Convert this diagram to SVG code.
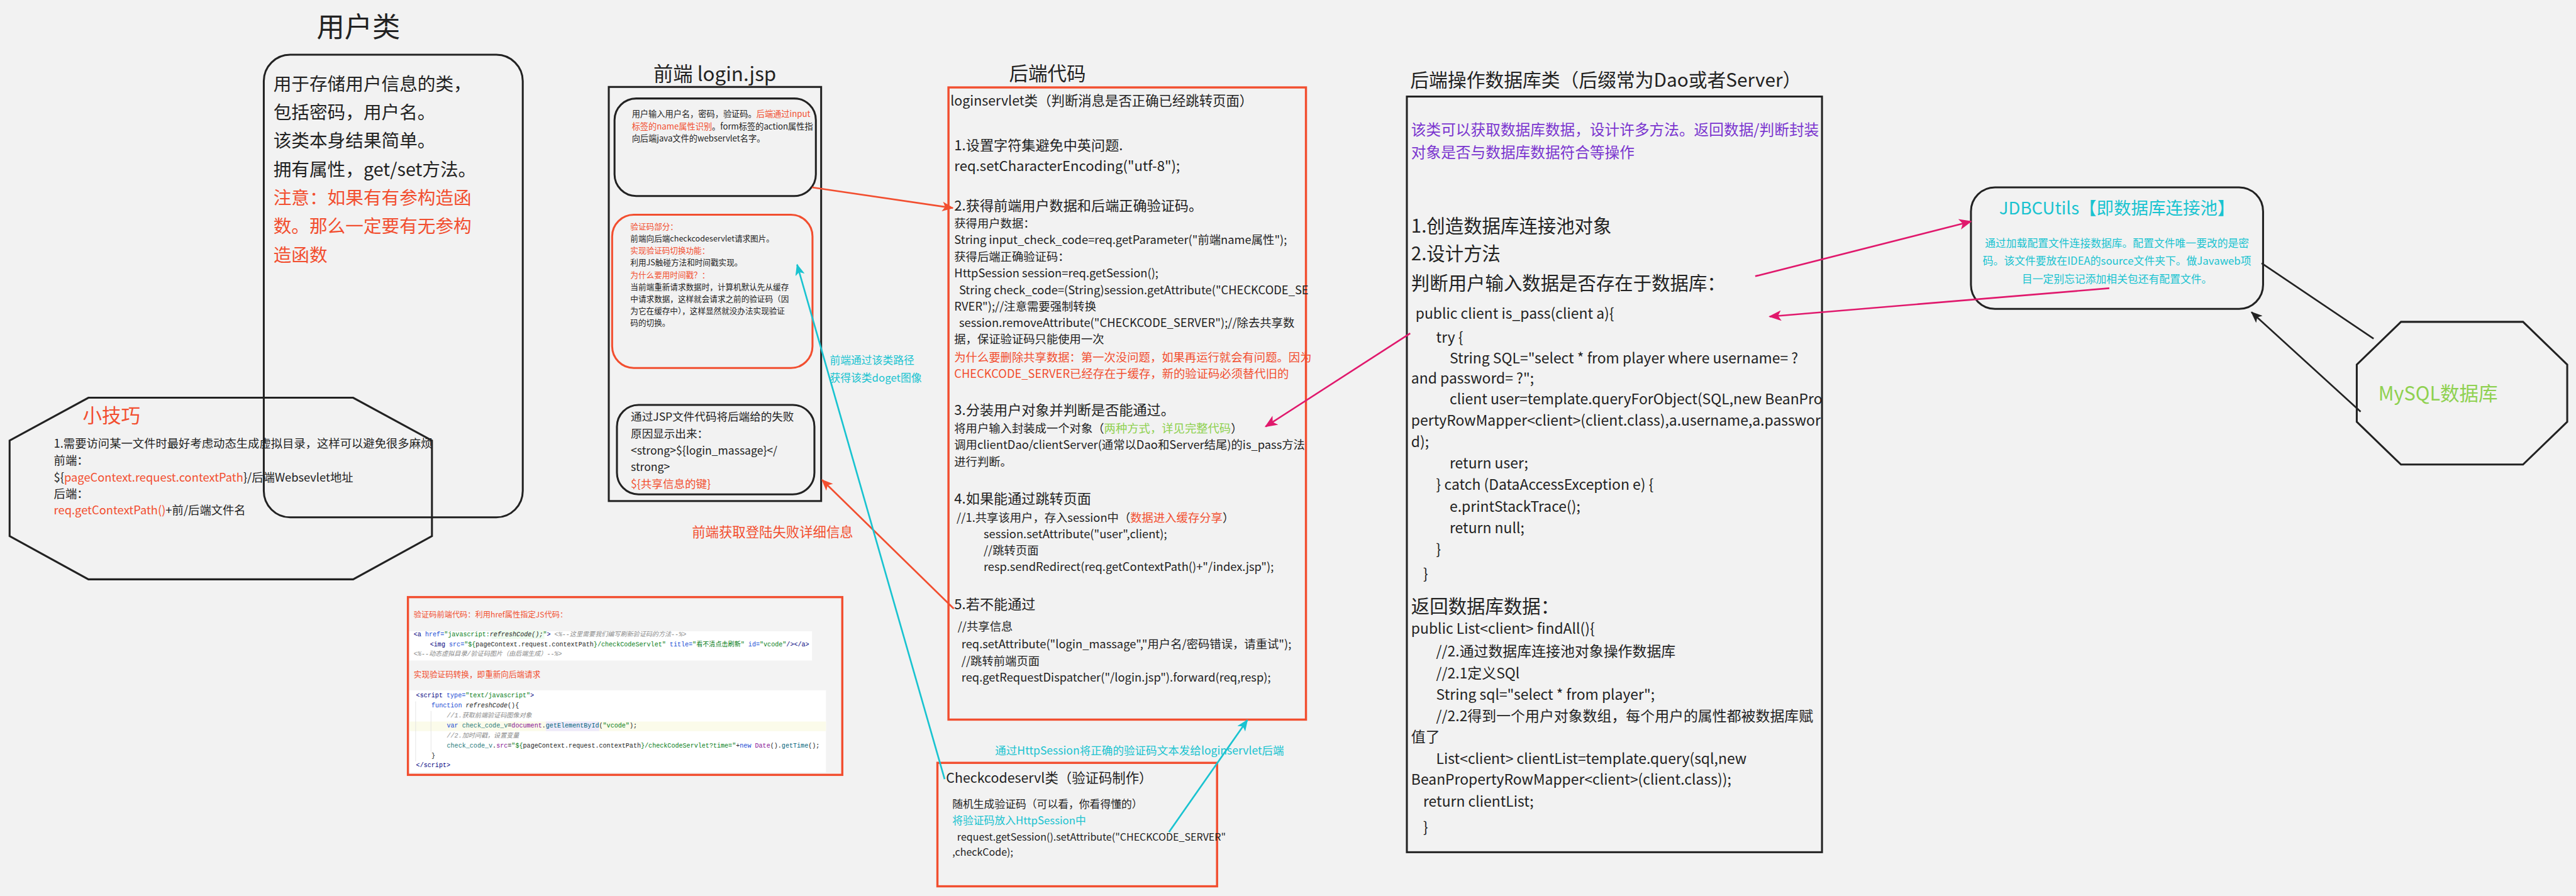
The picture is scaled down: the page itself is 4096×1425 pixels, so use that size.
<svg xmlns="http://www.w3.org/2000/svg" width="4096" height="1425" viewBox="0 0 4096 1425">
<style>
text{font-family:"Noto Sans CJK SC","Noto Sans",sans-serif;fill:#222}
.red{fill:#f24e2f}
.cy{fill:#19c3d0}
.pu{fill:#7a35cf}
.gr{fill:#8fd150}
.box{fill:none;stroke:#222;stroke-width:4}
.rbox{fill:none;stroke:#f24e2f;stroke-width:4.5}
.code text,.code tspan{font-family:"Liberation Mono","Noto Sans CJK SC",monospace;font-size:13.2px}
.nv{fill:#000080}.bl{fill:#174ad4}.sg{fill:#067d17}.cm{fill:#8c8c8c;font-style:italic}.it{font-style:italic}.tl{fill:#1f7a7a}.pp{fill:#871094}.fn{fill:#00627a}
.con{fill:none;stroke-width:3.5}
</style>
<defs>
<marker id="aR" viewBox="0 0 24 20" markerWidth="24" markerHeight="20" refX="22" refY="10" orient="auto" markerUnits="userSpaceOnUse"><path d="M0,0 L24,10 L0,20 L6,10 Z" fill="#f24e2f"/></marker>
<marker id="aC" viewBox="0 0 24 20" markerWidth="24" markerHeight="20" refX="22" refY="10" orient="auto" markerUnits="userSpaceOnUse"><path d="M0,0 L24,10 L0,20 L6,10 Z" fill="#19c3d0"/></marker>
<marker id="aP" viewBox="0 0 24 20" markerWidth="28" markerHeight="22" refX="22" refY="10" orient="auto" markerUnits="userSpaceOnUse"><path d="M0,0 L24,10 L0,20 L6,10 Z" fill="#e0186c"/></marker>
<marker id="aK" viewBox="0 0 24 20" markerWidth="24" markerHeight="20" refX="22" refY="10" orient="auto" markerUnits="userSpaceOnUse"><path d="M0,0 L24,10 L0,20 L6,10 Z" fill="#222"/></marker>
</defs>
<rect x="0" y="0" width="4096" height="1425" fill="#f2f2f2"/>
<g transform="scale(0.764)">

<g id="user-class">
<text x="659" y="77" font-size="58">用户类</text>
<rect class="box" x="549" y="114" width="539" height="963" rx="55" ry="55"/>
<g font-size="37.5">
<text x="569" y="188">用于存储用户信息的类，</text>
<text x="569" y="247">包括密码，用户名。</text>
<text x="569" y="306">该类本身结果简单。</text>
<text x="569" y="366">拥有属性，get/set方法。</text>
<text x="569" y="425" class="red">注意：如果有有参构造函</text>
<text x="569" y="484" class="red">数。那么一定要有无参构</text>
<text x="569" y="545" class="red">造函数</text>
</g>
</g>

<g id="tips">
<polygon class="box" points="184,828 735,828 899,917 899,1116 735,1206 184,1206 20,1116 20,917"/>
<text x="172" y="880" font-size="40" class="red">小技巧</text>
<g font-size="24">
<text x="112" y="932">1.需要访问某一文件时最好考虑动态生成虚拟目录，这样可以避免很多麻烦</text>
<text x="112" y="967">前端：</text>
<text x="112" y="1002">${<tspan class="red">pageContext.request.contextPath</tspan>}/后端Websevlet地址</text>
<text x="112" y="1037">后端：</text>
<text x="112" y="1071"><tspan class="red">req.getContextPath()</tspan>+前/后端文件名</text>
</g>
</g>

<g id="code-shot" class="code">
<rect x="849" y="1243" width="904" height="370" fill="#f3f3f3" stroke="#f24e2f" stroke-width="4.5"/>
<text x="861" y="1285" style="font-family:'Noto Sans CJK SC',sans-serif;font-size:16px" class="red">验证码前端代码：利用href属性指定JS代码：</text>
<rect x="852" y="1314" width="838" height="61" fill="#ffffff"/>
<rect x="1023" y="1312" width="110" height="18" fill="#edfced"/>
<text x="861" y="1324"><tspan class="nv">&lt;a </tspan><tspan class="bl">href=</tspan><tspan class="sg">"javascript:</tspan><tspan class="it">refreshCode();</tspan><tspan class="sg">"</tspan><tspan class="nv">&gt; </tspan><tspan class="cm">&lt;%--这里需要我们编写刷新验证码的方法--%&gt;</tspan></text>
<text x="895" y="1345"><tspan class="nv">&lt;img </tspan><tspan class="bl">src=</tspan><tspan class="sg">"${</tspan>pageContext.request.contextPath<tspan class="sg">}/checkCodeServlet" </tspan><tspan class="bl">title=</tspan><tspan class="sg">"看不清点击刷新" </tspan><tspan class="bl">id=</tspan><tspan class="sg">"vcode"</tspan><tspan class="nv">/&gt;&lt;/a&gt;</tspan></text>
<text x="861" y="1365" class="cm">&lt;%--动态虚拟目录/验证码图片（由后端生成）--%&gt;</text>
<text x="861" y="1410" style="font-family:'Noto Sans CJK SC',sans-serif;font-size:16.5px" class="red">实现验证码转换，即重新向后端请求</text>
<rect x="852" y="1437" width="867" height="171" fill="#ffffff"/>
<rect x="852" y="1502" width="867" height="20" fill="#fbfbea"/>
<rect x="1136" y="1502" width="111" height="20" fill="#eeeafa"/>
<line x1="865" y1="1460" x2="865" y2="1585" stroke="#dddddd" stroke-width="1"/>
<line x1="897" y1="1480" x2="897" y2="1565" stroke="#dddddd" stroke-width="1"/>
<text x="866" y="1452"><tspan class="nv">&lt;script </tspan><tspan class="bl">type=</tspan><tspan class="sg">"text/javascript"</tspan><tspan class="nv">&gt;</tspan></text>
<text x="898" y="1473"><tspan class="bl">function </tspan><tspan class="it">refreshCode</tspan>(){</text>
<text x="930" y="1494" class="cm">//1.获取前端验证码图像对象</text>
<text x="930" y="1514"><tspan class="bl">var </tspan><tspan class="tl">check_code_v</tspan>=<tspan class="pp">document</tspan>.<tspan class="fn">getElementById</tspan>(<tspan class="sg">"vcode"</tspan>);</text>
<text x="930" y="1535" class="cm">//2.加时间戳，设置变量</text>
<text x="930" y="1556"><tspan class="tl">check_code_v</tspan>.<tspan class="pp">src</tspan>=<tspan class="sg">"${</tspan>pageContext.request.contextPath<tspan class="sg">}/checkCodeServlet?time="</tspan>+<tspan class="bl">new </tspan><tspan class="pp">Date</tspan>().<tspan class="fn">getTime</tspan>();</text>
<text x="898" y="1577">}</text>
<text x="866" y="1597"><tspan class="nv">&lt;/script&gt;</tspan></text>
</g>

<g id="login-jsp">
<text x="1360" y="169" font-size="41">前端 login.jsp</text>
<rect class="box" x="1267" y="181" width="442" height="862"/>
</g>
<g id="jsp-input">
<rect class="box" x="1279" y="205" width="419" height="203" rx="45" ry="45"/>
<g font-size="17.3">
<text x="1315" y="244">用户输入用户名，密码，验证码。<tspan class="red">后端通过input</tspan></text>
<text x="1315" y="269"><tspan class="red">标签的name属性识别</tspan>。form标签的action属性指</text>
<text x="1315" y="294">向后端java文件的webservlet名字。</text>
</g>
</g>
<g id="jsp-checkcode">
<rect x="1274" y="447" width="417" height="319" rx="45" ry="45" fill="none" stroke="#f24e2f" stroke-width="4"/>
<g font-size="16.5">
<text x="1312" y="478" class="red">验证码部分：</text>
<text x="1312" y="503">前端向后端checkcodeservlet请求图片。</text>
<text x="1312" y="528" class="red">实现验证码切换功能：</text>
<text x="1312" y="553">利用JS触碰方法和时间戳实现。</text>
<text x="1312" y="578" class="red">为什么要用时间戳？：</text>
<text x="1312" y="603">当前端重新请求数据时，计算机默认先从缓存</text>
<text x="1312" y="628">中请求数据，这样就会请求之前的验证码（因</text>
<text x="1312" y="653">为它在缓存中），这样显然就没办法实现验证</text>
<text x="1312" y="678">码的切换。</text>
</g>
</g>
<g id="jsp-message">
<rect class="box" x="1284" y="843" width="411" height="186" rx="45" ry="45"/>
<g font-size="23">
<text x="1313" y="876">通过JSP文件代码将后端给的失败</text>
<text x="1313" y="911">原因显示出来：</text>
<text x="1313" y="946">&lt;strong&gt;${login_massage}&lt;/</text>
<text x="1313" y="981">strong&gt;</text>
<text x="1313" y="1016" class="red">${共享信息的键}</text>
</g>
</g>

<g id="loginservlet">
<text x="2100" y="167" font-size="40">后端代码</text>
<rect class="rbox" x="1974" y="182" width="744" height="1316"/>
<text x="1978" y="220" font-size="28">loginservlet类（判断消息是否正确已经跳转页面）</text>
<g font-size="29">
<text x="1986" y="313">1.设置字符集避免中英问题.</text>
<text x="1986" y="356">req.setCharacterEncoding("utf-8");</text>
<text x="1986" y="438">2.获得前端用户数据和后端正确验证码。</text>
<text x="1986" y="864">3.分装用户对象并判断是否能通过。</text>
<text x="1986" y="1049">4.如果能通过跳转页面</text>
<text x="1986" y="1268">5.若不能通过</text>
</g>
<g font-size="24">
<text x="1986" y="474">获得用户数据：</text>
<text x="1986" y="508">String input_check_code=req.getParameter("前端name属性");</text>
<text x="1986" y="543">获得后端正确验证码：</text>
<text x="1986" y="577">HttpSession session=req.getSession();</text>
<text x="1996" y="612">String check_code=(String)session.getAttribute("CHECKCODE_SE</text>
<text x="1986" y="646">RVER");//注意需要强制转换</text>
<text x="1996" y="681">session.removeAttribute("CHECKCODE_SERVER");//除去共享数</text>
<text x="1986" y="715">据，保证验证码只能使用一次</text>
<text x="1986" y="752" class="red">为什么要删除共享数据：第一次没问题，如果再运行就会有问题。因为</text>
<text x="1986" y="787" class="red">CHECKCODE_SERVER已经存在于缓存，新的验证码必须替代旧的</text>
<text x="1986" y="900">将用户输入封装成一个对象（<tspan class="gr">两种方式，详见完整代码</tspan>）</text>
<text x="1986" y="935">调用clientDao/clientServer(通常以Dao和Server结尾)的is_pass方法</text>
<text x="1986" y="970">进行判断。</text>
<text x="1991" y="1086">//1.共享该用户，存入session中（<tspan class="red">数据进入缓存分享</tspan>）</text>
<text x="2047" y="1120">session.setAttribute("user",client);</text>
<text x="2047" y="1155">//跳转页面</text>
<text x="2047" y="1189">resp.sendRedirect(req.getContextPath()+"/index.jsp");</text>
<text x="1993" y="1313">//共享信息</text>
<text x="2001" y="1349">req.setAttribute("login_massage","用户名/密码错误，请重试");</text>
<text x="2001" y="1385">//跳转前端页面</text>
<text x="2001" y="1419">req.getRequestDispatcher("/login.jsp").forward(req,resp);</text>
</g>
</g>

<g id="checkcodeservlet">
<rect class="rbox" x="1951" y="1588" width="582" height="257"/>
<text x="1969" y="1630" font-size="28">Checkcodeservl类（验证码制作）</text>
<g font-size="22">
<text x="1982" y="1682">随机生成验证码（可以看，你看得懂的）</text>
<text x="1982" y="1716" class="cy">将验证码放入HttpSession中</text>
<text x="1992" y="1750" font-size="21">request.getSession().setAttribute("CHECKCODE_SERVER"</text>
<text x="1982" y="1782" font-size="21">,checkCode);</text>
</g>
</g>

<g id="dao">
<text x="2935" y="180" font-size="39">后端操作数据库类（后缀常为Dao或者Server）</text>
<rect class="box" x="2928" y="201" width="864" height="1573"/>
<text x="2937" y="282" font-size="31" class="pu">该类可以获取数据库数据，设计许多方法。返回数据/判断封装</text>
<text x="2937" y="328" font-size="31" class="pu">对象是否与数据库数据符合等操作</text>
<g font-size="38.5">
<text x="2937" y="484">1.创造数据库连接池对象</text>
<text x="2937" y="542">2.设计方法</text>
<text x="2937" y="603">判断用户输入数据是否存在于数据库：</text>
<text x="2937" y="1276">返回数据库数据：</text>
</g>
<g font-size="30">
<text x="2946" y="664">public client is_pass(client a){</text>
<text x="2989" y="713">try {</text>
<text x="3017" y="757">String SQL="select * from player where username= ?</text>
<text x="2937" y="798">and password= ?";</text>
<text x="3017" y="842">client user=template.queryForObject(SQL,new BeanPro</text>
<text x="2937" y="886">pertyRowMapper&lt;client&gt;(client.class),a.username,a.passwor</text>
<text x="2937" y="931">d);</text>
<text x="3017" y="975">return user;</text>
<text x="2989" y="1020">} catch (DataAccessException e) {</text>
<text x="3017" y="1065">e.printStackTrace();</text>
<text x="3017" y="1110">return null;</text>
<text x="2989" y="1155">}</text>
<text x="2962" y="1205">}</text>
<text x="2937" y="1320">public List&lt;client&gt; findAll(){</text>
<text x="2989" y="1366">//2.通过数据库连接池对象操作数据库</text>
<text x="2989" y="1412">//2.1定义SQl</text>
<text x="2989" y="1457">String sql="select * from player";</text>
<text x="2989" y="1501">//2.2得到一个用户对象数组，每个用户的属性都被数据库赋</text>
<text x="2937" y="1545">值了</text>
<text x="2989" y="1590">List&lt;client&gt; clientList=template.query(sql,new</text>
<text x="2937" y="1634">BeanPropertyRowMapper&lt;client&gt;(client.class));</text>
<text x="2962" y="1679">return clientList;</text>
<text x="2962" y="1733">}</text>
</g>
</g>

<g id="jdbcutils">
<rect class="box" x="4102" y="390" width="608" height="253" rx="50" ry="50"/>
<text x="4406" y="447" font-size="36" class="cy" text-anchor="middle">JDBCUtils【即数据库连接池】</text>
<g font-size="22" class="cy" text-anchor="middle">
<text x="4406" y="514" class="cy">通过加载配置文件连接数据库。配置文件唯一要改的是密</text>
<text x="4406" y="551" class="cy">码。该文件要放在IDEA的source文件夹下。做Javaweb项</text>
<text x="4406" y="589" class="cy">目一定别忘记添加相关包还有配置文件。</text>
</g>
</g>

<g id="mysql">
<polygon class="box" points="4997,670 5251,670 5343,759 5343,878 5251,967 4997,967 4905,878 4905,759"/>
<text x="4950" y="834" font-size="40" class="gr">MySQL数据库</text>
</g>

<g id="labels">
<text x="1727" y="758" font-size="22" class="cy">前端通过该类路径</text>
<text x="1727" y="794" font-size="22" class="cy">获得该类doget图像</text>
<text x="1440" y="1118" font-size="28" class="red">前端获取登陆失败详细信息</text>
<text x="2071" y="1571" font-size="23" class="cy">通过HttpSession将正确的验证码文本发给loginservlet后端</text>
</g>

<g id="connectors">
<line class="con" stroke="#f24e2f" x1="1690" y1="390" x2="1983" y2="433" marker-end="url(#aR)"/>
<line class="con" stroke="#f24e2f" x1="1985" y1="1267" x2="1711" y2="999" marker-end="url(#aR)"/>
<line class="con" stroke="#19c3d0" stroke-width="4" x1="1966" y1="1622" x2="1659" y2="551" marker-end="url(#aC)"/>
<line class="con" stroke="#19c3d0" stroke-width="4" x1="2433" y1="1732" x2="2596" y2="1499" marker-end="url(#aC)"/>
<line class="con" stroke="#e0186c" x1="3653" y1="575" x2="4102" y2="461" marker-end="url(#aP)"/>
<line class="con" stroke="#e0186c" x1="4390" y1="600" x2="3683" y2="659" marker-end="url(#aP)"/>
<line class="con" stroke="#e0186c" x1="2935" y1="694" x2="2634" y2="888" marker-end="url(#aP)"/>
<line class="con" stroke="#222" x1="4707" y1="548" x2="4940" y2="705"/>
<line class="con" stroke="#222" x1="4913" y1="857" x2="4686" y2="650" marker-end="url(#aK)"/>
</g>
</g>
</svg>
